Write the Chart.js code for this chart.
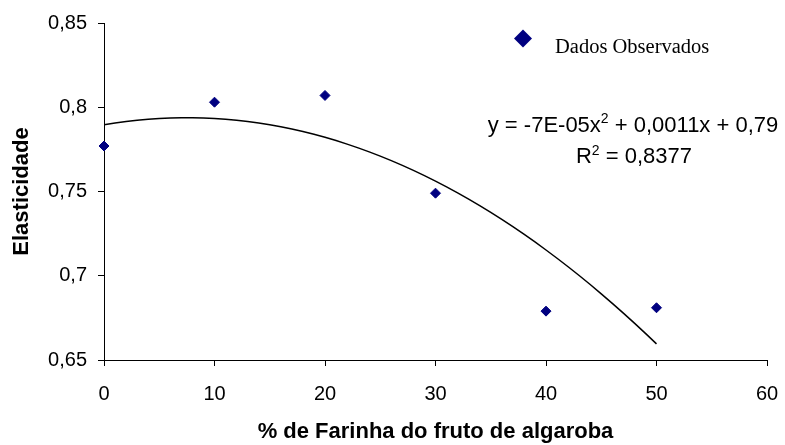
<!DOCTYPE html>
<html>
<head>
<meta charset="utf-8">
<script src="https://cdn.jsdelivr.net/npm/chart.js@4"></script>
<style>
    body { margin: 0; background: #fff; }
</style>
</head>
<body>
<canvas id="elasticityChart" width="785" height="445"></canvas>
<script>
// Observed elasticity per percentage of algaroba flour
const farinhaPct = [0, 10, 20, 30, 40, 50];
const elasticidade = [0.777, 0.803, 0.807, 0.749, 0.679, 0.681];

const xTickLabels = ["0", "10", "20", "30", "40", "50", "60"];
const yTickLabels = ["0,65", "0,7", "0,75", "0,8", "0,85"];

// trendline caption, split around the superscripts
const equationParts = ["y = -7E-05x", "2", " + 0,0011x + 0,79"];
const r2Parts = ["R", "2", " = 0,8377"];

const sansFont = "'Liberation Sans', Arial, sans-serif";

// Least squares fit of a 2nd order polynomial (same as a spreadsheet trendline)
function fitQuadratic(xs, ys) {
    let s = [0, 0, 0, 0, 0];
    let t = [0, 0, 0];
    for (let i = 0; i < xs.length; i++) {
        let p = 1;
        for (let k = 0; k < 5; k++) {
            s[k] += p;
            if (k < 3) t[k] += p * ys[i];
            p *= xs[i];
        }
    }
    let m = [
        [s[0], s[1], s[2], t[0]],
        [s[1], s[2], s[3], t[1]],
        [s[2], s[3], s[4], t[2]]
    ];
    for (let c = 0; c < 3; c++) {
        for (let r = c + 1; r < 3; r++) {
            let f = m[r][c] / m[c][c];
            for (let k = c; k < 4; k++) m[r][k] -= f * m[c][k];
        }
    }
    let coef = [0, 0, 0];
    for (let r = 2; r >= 0; r--) {
        let v = m[r][3];
        for (let k = r + 1; k < 3; k++) v -= m[r][k] * coef[k];
        coef[r] = v / m[r][r];
    }
    return coef; // c0 + c1*x + c2*x^2
}

function buildTrendline(xs, ys) {
    let c = fitQuadratic(xs, ys);
    let xMin = Math.min(...xs);
    let xMax = Math.max(...xs);
    let pts = [];
    for (let x = xMin; x <= xMax; x += 1) {
        pts.push({ x: x, y: c[0] + c[1] * x + c[2] * x * x });
    }
    return pts;
}

// draws "base" + superscript + "rest" centred on cx
function drawSupText(ctx, parts, cx, baseline) {
    ctx.font = "22px " + sansFont;
    let w0 = ctx.measureText(parts[0]).width;
    let w2 = ctx.measureText(parts[2]).width;
    ctx.font = "14px " + sansFont;
    let w1 = ctx.measureText(parts[1]).width;
    let x = cx - (w0 + w1 + w2) / 2;
    ctx.font = "22px " + sansFont;
    ctx.fillText(parts[0], x, baseline);
    ctx.font = "14px " + sansFont;
    ctx.fillText(parts[1], x + w0, baseline - 8.5);
    ctx.font = "22px " + sansFont;
    ctx.fillText(parts[2], x + w0 + w1, baseline);
}

const captionPlugin = {
    id: "captions",
    afterDraw(chart) {
        let ctx = chart.ctx;
        ctx.save();
        ctx.textAlign = "left";
        ctx.textBaseline = "alphabetic";

        // legend entry
        ctx.fillStyle = "#000080";
        ctx.beginPath();
        ctx.moveTo(523, 29.5);
        ctx.lineTo(532, 38.5);
        ctx.lineTo(523, 47.5);
        ctx.lineTo(514, 38.5);
        ctx.closePath();
        ctx.fill();

        ctx.fillStyle = "#000";
        ctx.font = "20.5px 'Liberation Serif', 'Times New Roman', serif";
        ctx.fillText("Dados Observados", 555, 53);

        // trendline equation
        drawSupText(ctx, equationParts, 633, 131.5);
        drawSupText(ctx, r2Parts, 634, 163);
        ctx.restore();
    }
};

let chartElement = document.getElementById("elasticityChart");

let elasticityChart = new Chart(chartElement, {
    type: "scatter",
    data: {
        datasets: [
            {
                label: "Polinômio",
                data: buildTrendline(farinhaPct, elasticidade),
                showLine: true,
                borderColor: "#000",
                borderWidth: 1.5,
                pointRadius: 0,
                tension: 0,
                order: 2
            },
            {
                label: "Dados Observados",
                data: farinhaPct.map((x, i) => ({ x: x, y: elasticidade[i] })),
                pointStyle: "rectRot",
                pointRadius: 5,
                borderWidth: 1,
                backgroundColor: "#000080",
                borderColor: "#000080",
                clip: false,
                order: 1
            }
        ]
    },
    options: {
        responsive: false,
        animation: false,
        layout: {
            padding: { top: 21, right: 18, left: 0, bottom: 0 }
        },
        plugins: {
            legend: { display: false },
            tooltip: { enabled: false }
        },
        scales: {
            x: {
                type: "linear",
                min: 0,
                max: 60,
                afterFit: (scale) => {
                    scale.height = 85;
                    // edge labels fit inside the layout padding
                    scale.paddingLeft = 0;
                    scale.paddingRight = 0;
                },
                ticks: {
                    stepSize: 10,
                    padding: 16,
                    color: "#000",
                    font: { family: sansFont, size: 20 },
                    callback: (value, index) => xTickLabels[index]
                },
                grid: {
                    drawOnChartArea: false,
                    tickLength: 6,
                    color: "#000"
                },
                border: { color: "#000", width: 1 },
                title: {
                    display: true,
                    text: "% de Farinha do fruto de algaroba",
                    color: "#000",
                    font: { family: sansFont, size: 22, weight: "bold" },
                    padding: { top: 0, bottom: 0 }
                }
            },
            y: {
                min: 0.65,
                max: 0.85,
                afterFit: (scale) => { scale.width = 104; },
                ticks: {
                    stepSize: 0.05,
                    padding: 11,
                    color: "#000",
                    font: { family: sansFont, size: 20 },
                    callback: (value, index) => yTickLabels[index]
                },
                grid: {
                    drawOnChartArea: false,
                    tickLength: 6,
                    color: "#000"
                },
                border: { color: "#000", width: 1 },
                title: {
                    display: true,
                    text: "Elasticidade",
                    color: "#000",
                    font: { family: sansFont, size: 22, weight: "bold" },
                    padding: { top: 9, bottom: 0 }
                }
            }
        }
    },
    plugins: [captionPlugin]
});
</script>
</body>
</html>
